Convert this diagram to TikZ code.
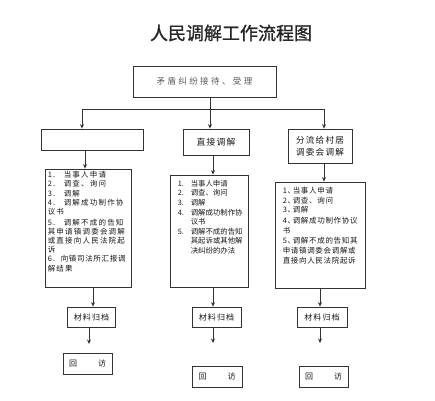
\documentclass[tikz,border=0pt]{standalone}
\usepackage{fontspec}
\newfontfamily\cjk{Noto Sans CJK SC}
\newfontfamily\cjkb[FakeBold=1.2]{Noto Sans CJK SC}
\newfontfamily\cjkl[LetterSpace=16]{Noto Sans CJK SC}
\newfontfamily\cjkr[LetterSpace=9]{Noto Sans CJK SC}
\newfontfamily\cjkw[LetterSpace=14]{Noto Sans CJK SC}
\newfontfamily\cjkt[LetterSpace=28]{Noto Sans CJK SC}
\usetikzlibrary{arrows.meta}
\newcommand{\nm}[1]{\makebox[13pt][l]{#1}}
\newcommand{\nml}[1]{\makebox[16pt][l]{#1}}
\newcommand{\nmr}[1]{\makebox[10pt][l]{#1}}
\begin{document}
\begin{tikzpicture}[x=1pt,y=-1pt,
  box/.style={draw=black!80, line width=0.8pt, inner sep=0pt, text=black!90,
    font=\cjkw\fontsize{8}{10}\selectfont},
  ln/.style={draw=black!80, line width=0.8pt},
  arr/.style={ln, -{Stealth[length=4.5pt,width=4pt]}},
  txt/.style={inner sep=0pt, anchor=north west, align=left, text=black!90}]
\useasboundingbox (0,0) rectangle (435,400);
\fill[white] (0,0) rectangle (435,400);

\node[text=black!85, font=\cjkb\fontsize{18}{18}\selectfont] (title) at (231,33) {人民调解工作流程图};

\node[box, minimum width=143pt, minimum height=31pt, text=black!65, font=\cjkt\fontsize{8.5}{10}\selectfont] (top) at (204.5,81.5) {矛盾纠纷接待、受理};

\node[box, minimum width=102pt, minimum height=21pt] (L1) at (92,139.5) {};
\node[box, minimum width=66pt, minimum height=26pt, font=\cjkw\fontsize{8.8}{10}\selectfont] (M1) at (216,142) {直接调解};
\node[box, minimum width=64pt, minimum height=34pt, align=left, font=\cjkw\fontsize{8.6}{11.5}\selectfont] (R1) at (320,146) {分流给村居\\调委会调解};

\node[box, minimum width=86pt, minimum height=118pt] (L2) at (88,228) {};
\node[box, minimum width=78pt, minimum height=112pt] (M2) at (209,231) {};
\node[box, minimum width=90pt, minimum height=106pt] (R2) at (320,235) {};

\node[txt, font=\cjkl\fontsize{7.5}{9.2}\selectfont] (L2t) at ([xshift=3pt,yshift=-2.5pt]L2.north west)
{\nml{1.}当事人申请\\ \nml{2.}调查、询问\\ \nml{3.}调解\\ \nml{4.}调解成功制作协\\ 议书\\[1.5pt]
 \nml{5.}调解不成的告知\\ 其申请镇调委会调解\\ 或直接向人民法院起\\ 诉\\ \nm{6.}{\cjkr 向镇司法所汇报调}\\ 解结果};

\node[txt, font=\cjk\fontsize{7.4}{9.6}\selectfont] (M2t) at ([xshift=8pt,yshift=-5.3pt]M2.north west)
{\nm{1.}当事人申请\\ \nm{2.}调查、询问\\ \nm{3.}调解\\ \nm{4.}调解成功制作协\\ \nm{}议书\\ \nm{5.}调解不成的告知\\ \nm{}其起诉或其他解\\ \nm{}决纠纷的办法};

\node[txt, font=\cjkr\fontsize{7.5}{9.7}\selectfont] (R2t) at ([xshift=8pt,yshift=-5.3pt]R2.north west)
{\nmr{1、}当事人申请\\ \nmr{2、}调查、询问\\ \nmr{3、}调解\\[1pt] \nmr{4、}调解成功制作协议\\ 书\\[1pt] \nmr{5、}调解不成的告知其\\ 申请镇调委会调解或\\ 直接向人民法院起诉};

\node[box, minimum width=48pt, minimum height=20pt] (L3) at (91.5,317) {材料归档};
\node[box, minimum width=49pt, minimum height=20pt] (M3) at (216.5,317) {材料归档};
\node[box, minimum width=50pt, minimum height=20pt] (R3) at (322,317) {材料归档};

\node[box, minimum width=49pt, minimum height=21pt] (L4) at (87.5,363.5) {\makebox[37pt]{回\hfill 访}};
\node[box, minimum width=50pt, minimum height=21pt] (M4) at (217,376.5) {\makebox[37pt]{回\hfill 访}};
\node[box, minimum width=49pt, minimum height=21pt] (R4) at (323.5,376.5) {\makebox[37pt]{回\hfill 访}};

% column positions
\coordinate (J) at (210,109);
\coordinate (Lc) at (82,109);
\coordinate (Rc) at (324,109);
\coordinate (xL2) at (85,0);
\coordinate (xM2) at (213,0);
\coordinate (xR2) at (324,0);
\coordinate (xL3) at (93,0);
\coordinate (xR3) at (320,0);
\coordinate (Le) at (89,344);
\coordinate (Me) at (213,343);
\coordinate (Re) at (320,343);

\draw[arr] (top.south -| J) -- (M1.north -| J);
\draw[ln] (Lc) -- (Rc);
\draw[arr] (Lc) -- (L1.north -| Lc);
\draw[arr] (Rc) -- (R1.north -| Rc);

\draw[arr] (L1.south -| xL2) -- (L2.north -| xL2);
\draw[arr] (M1.south -| xM2) -- (M2.north -| xM2);
\draw[arr] (R1.south -| xR2) -- (R2.north -| xR2);

\draw[arr] (L2.south -| xL3) -- (L3.north -| xL3);
\draw[arr] (M2.south -| xM2) -- (M3.north -| xM2);
\draw[arr] (R2.south -| xR3) -- (R3.north -| xR3);

\draw[arr] (L3.south -| Le) -- (Le);
\draw[arr] (M3.south -| Me) -- (Me);
\draw[arr] (R3.south -| Re) -- (Re);
\end{tikzpicture}
\end{document}
